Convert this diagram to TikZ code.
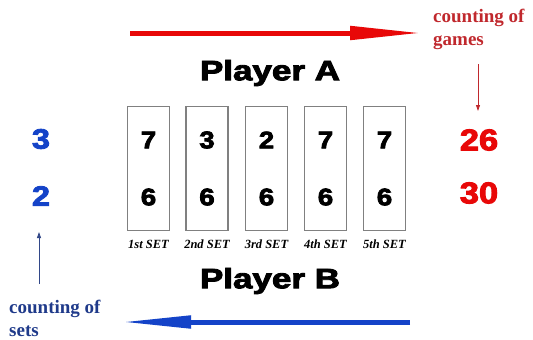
\documentclass[tikz,border=0pt]{standalone}
\usepackage{fontspec}
\setmainfont{Liberation Serif}
\newfontfamily\heavy{Liberation Sans}[BoldFeatures={FakeBold=3}]
\usetikzlibrary{arrows.meta}
\definecolor{bigred}{HTML}{E80808}
\definecolor{txtred}{HTML}{C0282D}
\definecolor{bigblue}{HTML}{1443C8}
\definecolor{txtblue}{HTML}{1F3A8A}
\definecolor{boxgray}{HTML}{808080}
\tikzset{
  setbox/.style={draw=boxgray, line width=1.3pt, minimum width=42pt, minimum height=124pt, inner sep=0pt},
  digit/.style={font=\heavy\bfseries\fontsize{24}{24}\selectfont, inner sep=0pt, text=black},
  title/.style={font=\heavy\bfseries\fontsize{28}{28}\selectfont, inner sep=0pt},
  setlabel/.style={font=\bfseries\itshape\fontsize{12.5}{12.5}\selectfont, inner sep=0pt},
  note/.style={font=\bfseries\fontsize{19}{23}\selectfont, inner sep=0pt, align=left},
  bluenum/.style={font=\heavy\bfseries\fontsize{28}{28}\selectfont, inner sep=0pt, text=bigblue},
  rednum/.style={font=\heavy\bfseries\fontsize{30}{30}\selectfont, inner sep=0pt, text=bigred},
}
\begin{document}
\begin{tikzpicture}[x=1pt,y=-1pt]
\useasboundingbox (0,0) rectangle (533,340);
% big arrows
\coordinate (ra1) at (130,33);
\coordinate (ra2) at (422,33);
\draw[bigred, line width=5pt, -{Triangle[length=72pt,width=13pt]}] (ra1) -- (ra2);
\coordinate (ba1) at (410,322);
\coordinate (ba2) at (121,322);
\draw[bigblue, line width=5pt, -{Triangle[length=70pt,width=12pt]}] (ba1) -- (ba2);
% titles
\node[title] (pa) at (270,73) {\scalebox{1.25}[1]{Player A}};
\node[title] (pb) at (270,281) {\scalebox{1.25}[1]{Player B}};
% boxes
\foreach \i/\x/\a/\b/\lab in {1/148.5/7/6/1st,2/207/3/6/2nd,3/266.5/2/6/3rd,4/325.5/7/6/4th,5/384.5/7/6/5th}{
  \node[setbox] (box\i) at (\x,168.7) {};
  \node[digit] (ta\i) at (\x,140) {\scalebox{1.15}[1]{\a}};
  \node[digit] (tb\i) at (\x,197) {\scalebox{1.15}[1]{\b}};
  \node[setlabel] (lab\i) at (\x,244) {\lab\ SET};
}
% red annotation
\node[note, text=txtred, anchor=north west] (games) at (433,9) {counting of\\games};
\node[rednum] (n26) at (479,140) {\scalebox{1.15}[1]{26}};
\node[rednum] (n30) at (479,193) {\scalebox{1.15}[1]{30}};
\coordinate (rs1) at (478,64);
\coordinate (rs2) at (478,111);
\draw[txtred, line width=0.8pt, -{Triangle[length=6pt,width=4pt]}] (rs1) -- (rs2);
% blue annotation
\node[bluenum] (n3) at (41,139) {\scalebox{1.15}[1]{3}};
\node[bluenum] (n2) at (41,196) {\scalebox{1.15}[1]{2}};
\node[note, text=txtblue, anchor=north west] (sets) at (9,300) {counting of\\sets};
\coordinate (bs1) at (39,284);
\coordinate (bs2) at (39,232);
\draw[txtblue!80!gray, line width=0.8pt, -{Triangle[length=6pt,width=4pt]}] (bs1) -- (bs2);
\end{tikzpicture}
\end{document}
